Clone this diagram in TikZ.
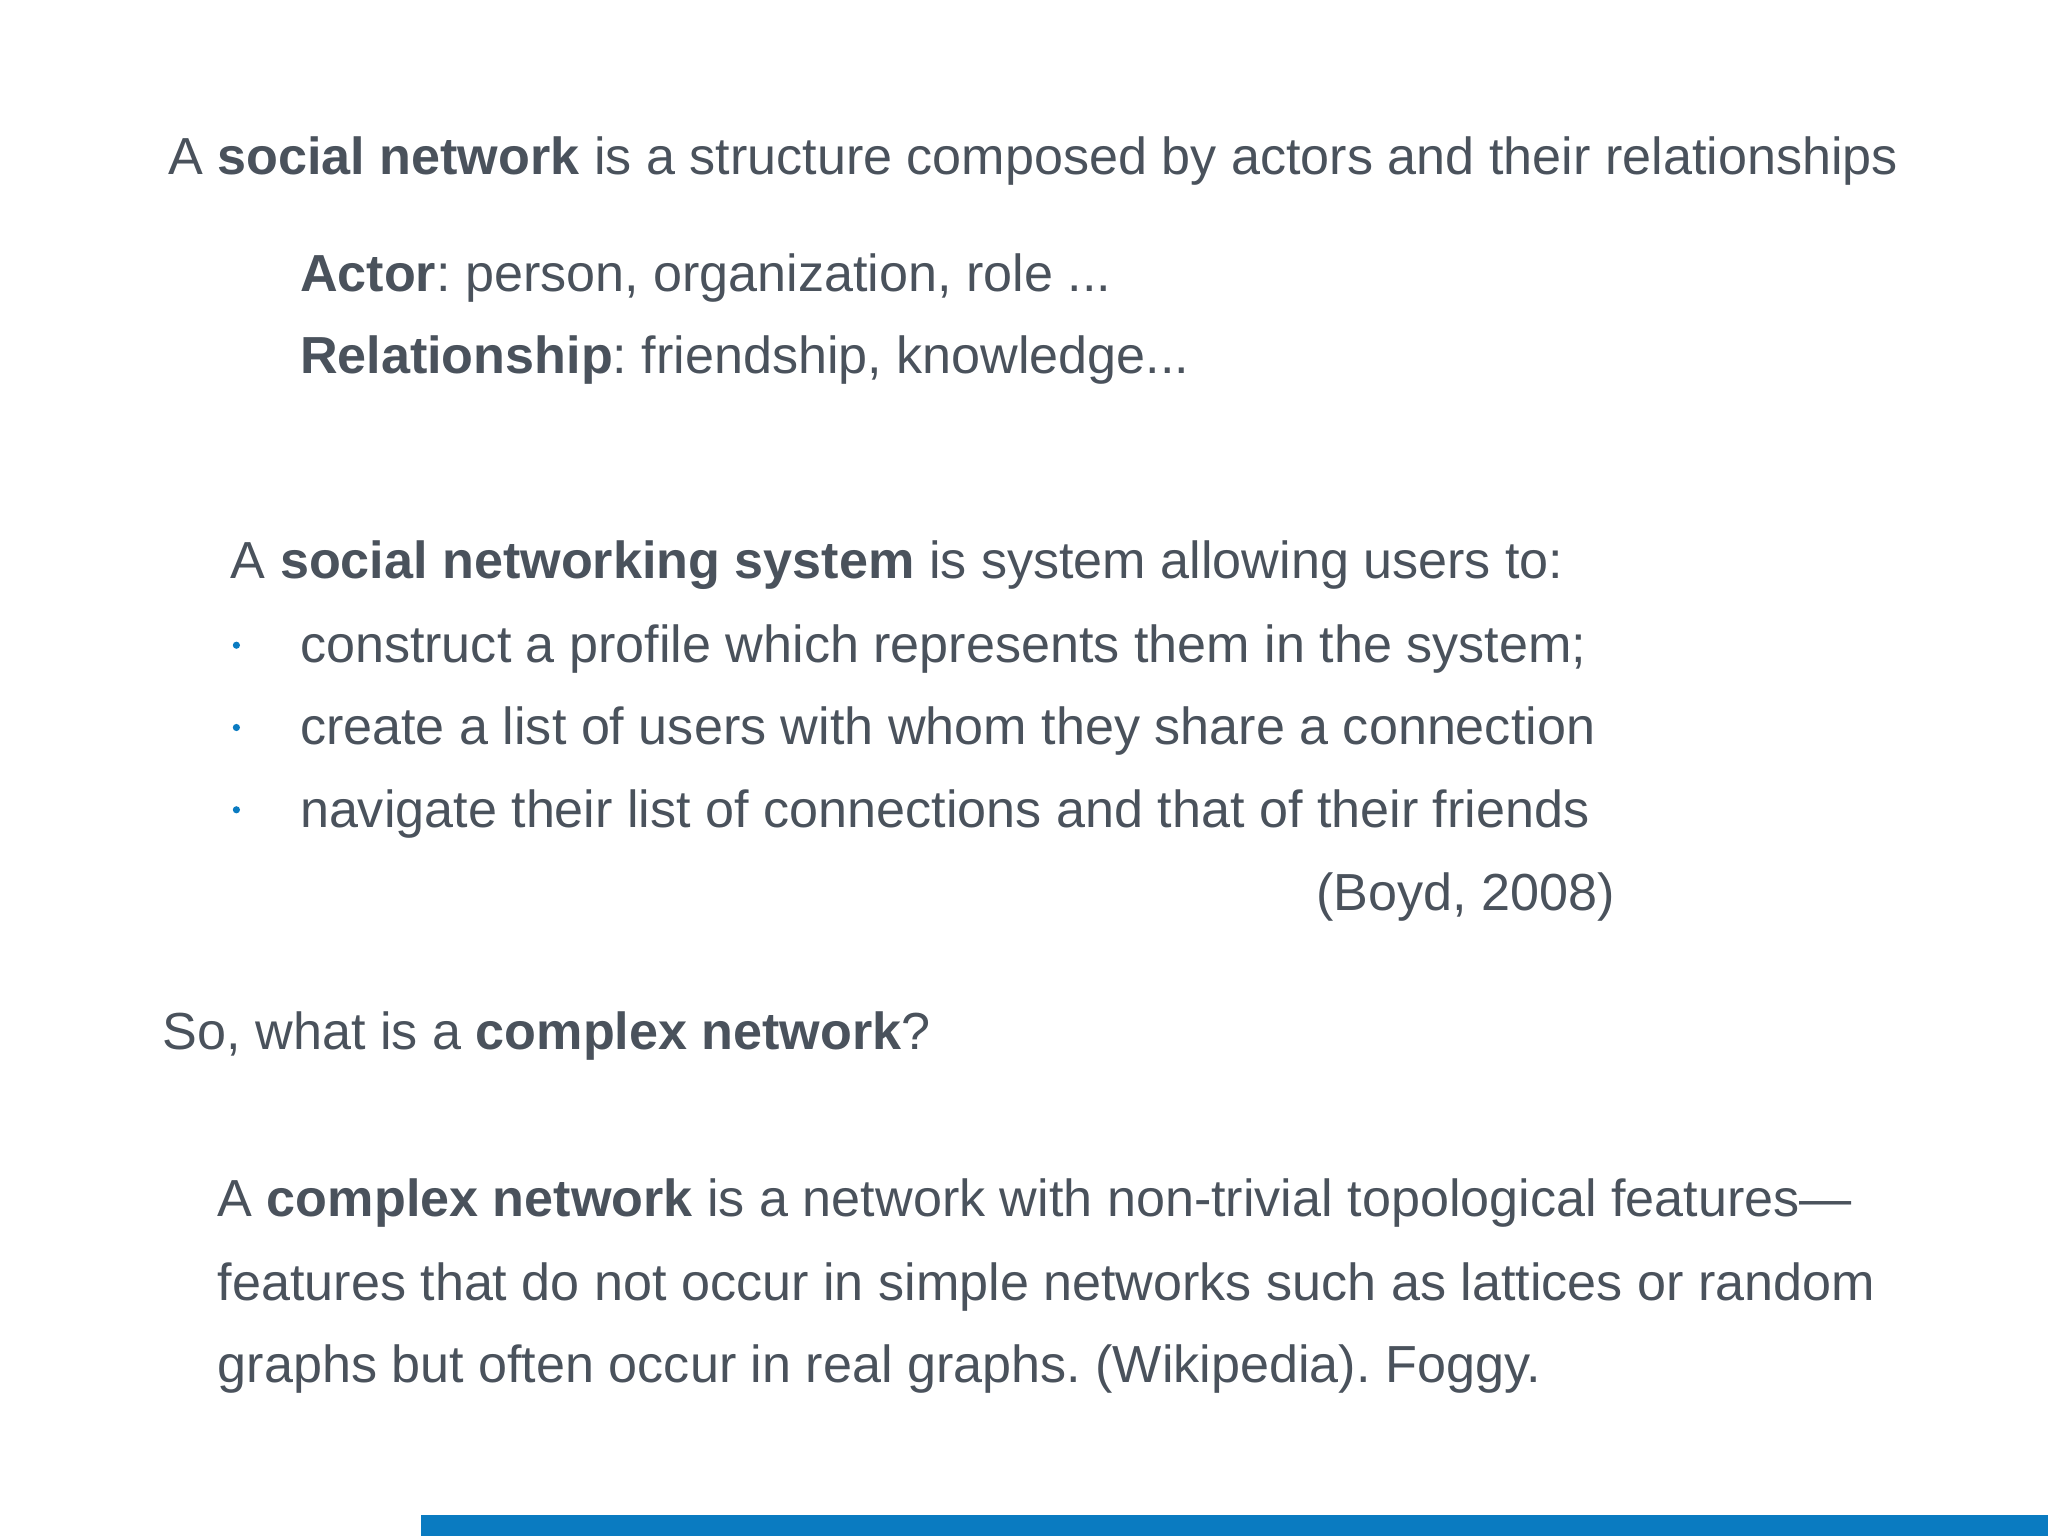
\documentclass[tikz,border=0pt]{standalone}
\usepackage{fontspec}
\setmainfont{Liberation Sans}
\definecolor{txt}{HTML}{4A525C}
\definecolor{blu}{HTML}{0A7BC1}
\begin{document}
\frenchspacing
\begin{tikzpicture}[x=0.01cm,y=-0.01cm,
  t/.style={anchor=west,inner sep=0pt,text=txt,font=\fontsize{11.35pt}{13pt}\selectfont},
  dot/.style={circle,fill=blu,inner sep=0pt,minimum size=0.055cm}]
\useasboundingbox (0,0) rectangle (1568,1176);
\node[t] (l1) at (128,123) {A \textbf{social network} is a structure composed by actors and their relationships};
\node[t] (l2) at (229,213) {\textbf{Actor}: person, organization, role ...};
\node[t] (l3) at (229,276) {\textbf{Relationship}: friendship, knowledge...};
\node[t] (l4) at (176,433) {A \textbf{social networking system} is system allowing users to:};
\node[t] (b1) at (229,497) {construct a profile which represents them in the system;};
\node[t] (b2) at (229,560) {create a list of users with whom they share a connection};
\node[t] (b3) at (229,623) {navigate their list of connections and that of their friends};
\node[dot] (d1) at (181,494) {};
\node[dot] (d2) at (181,557) {};
\node[dot] (d3) at (181,620) {};
\node[t,anchor=east] (boyd) at (1237,687) {(Boyd, 2008)};
\node[t] (q) at (124,793) {So, what is a \textbf{complex network}?};
\node[t] (c1) at (166,921) {A \textbf{complex network} is a network with non-trivial topological features—};
\node[t] (c2) at (166,985) {features that do not occur in simple networks such as lattices or random};
\node[t] (c3) at (166,1048) {graphs but often occur in real graphs. (Wikipedia). Foggy.};
\fill[blu] (322,1160) rectangle (1568,1176);
\end{tikzpicture}
\end{document}
